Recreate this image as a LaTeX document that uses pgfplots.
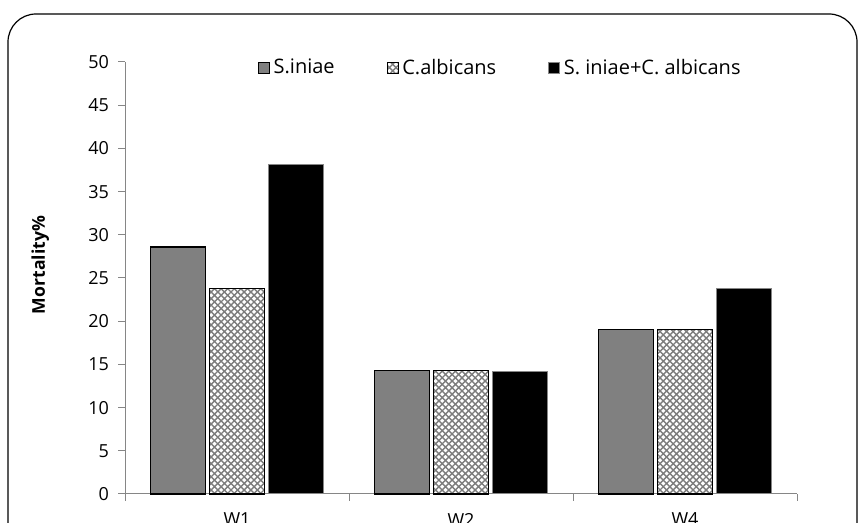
\documentclass[border=0pt]{standalone}
\usepackage{fontspec}
\setmainfont{Open Sans}
\usepackage{pgfplots}
\pgfplotsset{compat=1.18}
\usetikzlibrary{patterns}
\pgfdeclarepatternformonly{diamondlat}{\pgfpoint{-0.5pt}{-0.5pt}}{\pgfpoint{3.8pt}{3.8pt}}{\pgfpoint{3.3pt}{3.3pt}}{%
  \pgfsetlinewidth{0.7pt}%
  \pgfpathmoveto{\pgfpoint{-0.2pt}{-0.2pt}}\pgfpathlineto{\pgfpoint{3.5pt}{3.5pt}}%
  \pgfpathmoveto{\pgfpoint{-0.2pt}{3.5pt}}\pgfpathlineto{\pgfpoint{3.5pt}{-0.2pt}}%
  \pgfusepath{stroke}}
\definecolor{sgray}{RGB}{128,128,128}
\definecolor{pgray}{RGB}{125,125,125}
\definecolor{axgray}{RGB}{134,134,134}
\begin{document}
\begin{tikzpicture}[x=0.5pt,y=0.5pt]
\clip (0,0) rectangle (861,523);
\path[use as bounding box] (0,0) rectangle (861,523);
\draw[black, line width=0.6pt, rounded corners=14pt] (8,509) rectangle (857,-30);
\begin{axis}[
  at={(62.5pt,14.5pt)}, anchor=south west,
  scale only axis, width=336pt, height=216pt,
  ybar, bar width=27.5pt,
  xmin=-0.5, xmax=2.5, ymin=0, ymax=50,
  ytick={0,5,...,50},
  xtick={-0.5,0.5,1.5,2.5}, xticklabels={},
  extra x ticks={0,1,2}, extra x tick labels={W1,W2,W4},
  extra x tick style={major tick length=0pt, xticklabel style={yshift=-6pt}},
  axis x line*=bottom, axis y line*=left,
  axis line style={axgray, line width=0.5pt},
  tick style={axgray, line width=0.5pt},
  major tick length=3.5pt, tick align=outside,
  tick label style={font=\fontsize{9}{11}\selectfont, text=black},
  /pgf/number format/assume math mode=true,
  yticklabel style={xshift=-1pt},
  ylabel={Mortality\%},
  every axis y label/.style={at={(axis description cs:-0.126,0.53)}, rotate=90, anchor=center,
    font=\bfseries\fontsize{8.8}{10}\selectfont},
  legend columns=3,
  legend style={draw=none, fill=none, at={(axis description cs:0.56,0.986)}, anchor=center,
    font=\fontsize{10}{12}\selectfont, /tikz/every even column/.append style={column sep=24pt}},
  legend image code/.code={\draw[#1, line width=0.4pt] (0pt,-2.6pt) rectangle (5.4pt,2.6pt);},
  clip=false,
]
\addplot[bar shift=-29.5pt, fill=sgray, draw=black, line width=0.7pt] coordinates {(0,28.57) (1,14.29) (2,19.05)};
\addplot[bar shift=0pt, pattern=diamondlat, pattern color=pgray, draw=black, line width=0.7pt] coordinates {(0,23.81) (1,14.29) (2,19.05)};
\addplot[bar shift=29.5pt, fill=black, draw=axgray, line width=0.5pt] coordinates {(0,38.1) (1,14.2) (2,23.81)};
\legend{S.iniae, C.albicans, S. iniae+C. albicans}
\end{axis}
\end{tikzpicture}
\end{document}
